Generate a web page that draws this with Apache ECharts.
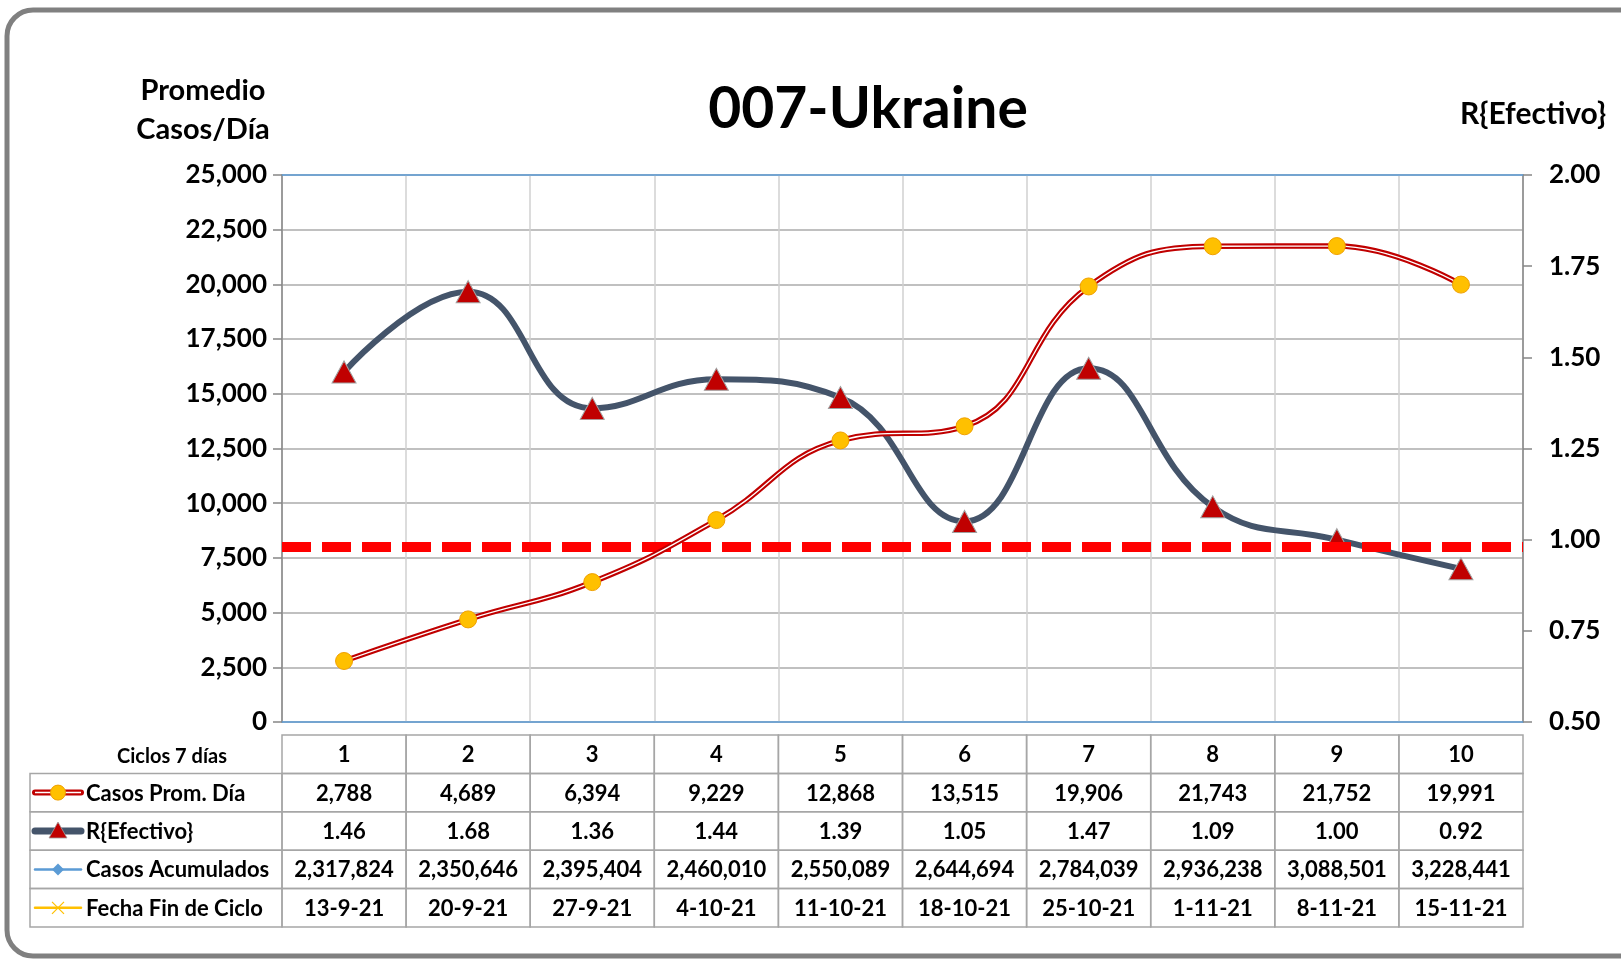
<!DOCTYPE html>
<html>
<head>
<meta charset="utf-8">
<script src="https://cdn.jsdelivr.net/npm/echarts@6/dist/echarts.min.js"></script>
<style>
  html, body { margin: 0; padding: 0; background: #fff; }
  #chart { width: 1621px; height: 960px; }
</style>
</head>
<body>
<div id="chart"></div>
<script>
// datos
const ciclos = ['1', '2', '3', '4', '5', '6', '7', '8', '9', '10'];
const casosProm = [2788, 4689, 6394, 9229, 12868, 13515, 19906, 21743, 21752, 19991];
const rEfectivo = [1.46, 1.68, 1.36, 1.44, 1.39, 1.05, 1.47, 1.09, 1.00, 0.92];
const casosAcum = [2317824, 2350646, 2395404, 2460010, 2550089, 2644694, 2784039, 2936238, 3088501, 3228441];
const fechaFin = ['13-9-21', '20-9-21', '27-9-21', '4-10-21', '11-10-21', '18-10-21', '25-10-21', '1-11-21', '8-11-21', '15-11-21'];
const rowNames = ['Casos Prom. Día', 'R{Efectivo}', 'Casos Acumulados', 'Fecha Fin de Ciclo'];
const umbral = 0.98;

const FONT = 'Lato';
const fmt = v => v.toLocaleString('en-US');

// tabla de abajo
const cellText = [
  ciclos,
  casosProm.map(fmt),
  rEfectivo.map(v => v.toFixed(2)),
  casosAcum.map(fmt),
  fechaFin
];
const tableData = [];
for (let r = 0; r < 5; r++) {
  for (let c = 0; c < 10; c++) tableData.push([c, r]);
}
for (let r = 1; r < 5; r++) tableData.push([-1, r]);

const legendW = 252;

function legendIcon(r, cx, cy) {
  const x0 = cx - 23, x1 = cx + 23;
  if (r === 1) {
    return [
      { type: 'line', shape: { x1: x0, y1: cy, x2: x1, y2: cy }, style: { stroke: '#c00000', lineWidth: 6, lineCap: 'round' } },
      { type: 'line', shape: { x1: x0, y1: cy, x2: x1, y2: cy }, style: { stroke: '#fff', lineWidth: 1.5 } },
      { type: 'circle', shape: { cx: cx, cy: cy, r: 7.5 }, style: { fill: '#ffc000', stroke: '#f0a000', lineWidth: 1 } }
    ];
  }
  if (r === 2) {
    return [
      { type: 'line', shape: { x1: x0, y1: cy, x2: x1, y2: cy }, style: { stroke: '#44546a', lineWidth: 7, lineCap: 'round' } },
      { type: 'polygon', shape: { points: [[cx, cy - 9], [cx + 9, cy + 7], [cx - 9, cy + 7]] }, style: { fill: '#c00000', stroke: '#a0a0a0', lineWidth: 0.8 } }
    ];
  }
  if (r === 3) {
    return [
      { type: 'line', shape: { x1: x0, y1: cy, x2: x1, y2: cy }, style: { stroke: '#5b9bd5', lineWidth: 2.5, lineCap: 'round' } },
      { type: 'polygon', shape: { points: [[cx, cy - 6], [cx + 6, cy], [cx, cy + 6], [cx - 6, cy]] }, style: { fill: '#5b9bd5' } }
    ];
  }
  return [
    { type: 'line', shape: { x1: x0, y1: cy, x2: x1, y2: cy }, style: { stroke: '#ffc000', lineWidth: 2.5, lineCap: 'round' } },
    { type: 'line', shape: { x1: cx - 6, y1: cy - 6, x2: cx + 6, y2: cy + 6 }, style: { stroke: '#ffc000', lineWidth: 1.2 } },
    { type: 'line', shape: { x1: cx - 6, y1: cy + 6, x2: cx + 6, y2: cy - 6 }, style: { stroke: '#ffc000', lineWidth: 1.2 } }
  ];
}

function renderCell(params, api) {
  const c = api.value(0), r = api.value(1);
  const p0 = api.coord([Math.max(c, 0), r]);
  const p1 = api.coord([Math.max(c, 0) + 1, r + 1]);
  const h = p1[1] - p0[1];
  if (c < 0) {
    const x = p0[0] - legendW;
    return {
      type: 'group',
      children: [
        { type: 'rect', shape: { x: x, y: p0[1], width: legendW, height: h }, style: { fill: 'none', stroke: '#a6a6a6', lineWidth: 1.5 } },
        { type: 'text', style: { text: rowNames[r - 1], x: x + 56, y: p0[1] + h / 2 + 1, align: 'left', verticalAlign: 'middle', font: 'bold 22px ' + FONT, fill: '#000' } }
      ].concat(legendIcon(r, x + 28, p0[1] + h / 2))
    };
  }
  const kids = [
    { type: 'rect', shape: { x: p0[0], y: p0[1], width: p1[0] - p0[0], height: h }, style: { fill: 'none', stroke: '#a6a6a6', lineWidth: 1.5 } },
    { type: 'text', style: { text: cellText[r][c], x: (p0[0] + p1[0]) / 2, y: p0[1] + h / 2 + 1, align: 'center', verticalAlign: 'middle', font: 'bold 22px ' + FONT, fill: '#000' } }
  ];
  if (r === 0 && c === 0) {
    kids.push({ type: 'text', style: { text: 'Ciclos 7 días', x: p0[0] - 110, y: p0[1] + h / 2 + 2, align: 'center', verticalAlign: 'middle', font: 'bold 20px ' + FONT, fill: '#000' } });
  }
  return { type: 'group', children: kids };
}

var chart = echarts.init(document.getElementById('chart'));
var option = {
  backgroundColor: '#fff',
  animation: false,
  textStyle: { fontFamily: FONT },
  graphic: [
    { type: 'rect', shape: { x: 7, y: 10, width: 1640, height: 946, r: 26 }, style: { fill: 'none', stroke: '#808080', lineWidth: 5 }, z: -1 },
    { type: 'text', style: { text: '007-Ukraine', x: 868, y: 110, align: 'center', verticalAlign: 'middle', font: 'bold 57px ' + FONT, fill: '#000' } },
    { type: 'text', style: { text: 'Promedio\nCasos/Día', x: 203, y: 110, align: 'center', verticalAlign: 'middle', lineHeight: 39, font: 'bold 29px ' + FONT, fill: '#000' } },
    { type: 'text', style: { text: 'R{Efectivo}', x: 1533, y: 114, align: 'center', verticalAlign: 'middle', font: 'bold 30px ' + FONT, fill: '#000' } }
  ],
  grid: [
    { left: 282, right: 98, top: 175, bottom: 238 },
    { left: 282, right: 98, top: 735, bottom: 33 }
  ],
  xAxis: [
    {
      type: 'category', data: ciclos, gridIndex: 0, boundaryGap: true,
      axisLine: { lineStyle: { color: '#5b9bd5', width: 1.5 } },
      axisTick: { show: false }, axisLabel: { show: false },
      splitLine: { show: true, lineStyle: { color: '#d0d0d0', width: 1.5 } }
    },
    {
      type: 'category', data: ciclos, gridIndex: 0, position: 'top',
      axisLine: { lineStyle: { color: '#5b9bd5', width: 1.5 } },
      axisTick: { show: false }, axisLabel: { show: false }
    },
    { type: 'value', gridIndex: 1, min: 0, max: 10, show: false }
  ],
  yAxis: [
    {
      type: 'value', gridIndex: 0, min: 0, max: 25000, interval: 2500,
      axisLine: { show: true, lineStyle: { color: '#868686', width: 1.5 } },
      axisTick: { show: true, length: 9, lineStyle: { color: '#868686', width: 1.5 } },
      axisLabel: { margin: 15, fontSize: 26, fontWeight: 'bold', color: '#000', fontFamily: FONT, formatter: v => fmt(v) },
      splitLine: { lineStyle: { color: '#ababab', width: 1.5 } }
    },
    {
      type: 'value', gridIndex: 0, min: 0.5, max: 2, interval: 0.25, position: 'right',
      axisLine: { show: true, lineStyle: { color: '#868686', width: 1.5 } },
      axisTick: { show: true, length: 9, lineStyle: { color: '#868686', width: 1.5 } },
      axisLabel: { margin: 26, fontSize: 26, fontWeight: 'bold', color: '#000', fontFamily: FONT, formatter: v => v.toFixed(2) },
      splitLine: { show: false }
    },
    { type: 'value', gridIndex: 1, min: 0, max: 5, inverse: true, show: false }
  ],
  series: [
    {
      name: 'R{Efectivo}', type: 'line', xAxisIndex: 0, yAxisIndex: 1, data: rEfectivo,
      smooth: 0.45, z: 2,
      lineStyle: { color: '#44546a', width: 6 },
      symbol: 'triangle', symbolSize: [24, 22],
      itemStyle: { color: '#c00000', borderColor: '#a0a0a0', borderWidth: 1 },
      markLine: {
        silent: true, symbol: 'none', label: { show: false }, z: 3,
        lineStyle: { color: '#ff0000', width: 10, type: [29, 11], opacity: 1 },
        data: [{ yAxis: umbral }]
      }
    },
    {
      name: 'Casos Prom. Día', type: 'line', xAxisIndex: 0, yAxisIndex: 0, data: casosProm,
      smooth: 0.45, z: 4, showSymbol: false,
      lineStyle: { color: '#c00000', width: 5.5 }
    },
    {
      name: 'Casos Prom. Día (centro)', type: 'line', xAxisIndex: 0, yAxisIndex: 0, data: casosProm,
      smooth: 0.45, z: 5, showSymbol: false,
      lineStyle: { color: '#fff', width: 1.3 }
    },
    {
      name: 'Casos Prom. Día (marcas)', type: 'line', xAxisIndex: 0, yAxisIndex: 0, data: casosProm,
      z: 6, lineStyle: { width: 0, opacity: 0 },
      symbol: 'circle', symbolSize: 17,
      itemStyle: { color: '#ffc000', borderColor: '#f0a000', borderWidth: 1 }
    },
    {
      name: 'tabla', type: 'custom', coordinateSystem: 'cartesian2d', xAxisIndex: 2, yAxisIndex: 2,
      clip: false, silent: true, data: tableData, renderItem: renderCell
    }
  ]
};
chart.setOption(option);
</script>
</body>
</html>
